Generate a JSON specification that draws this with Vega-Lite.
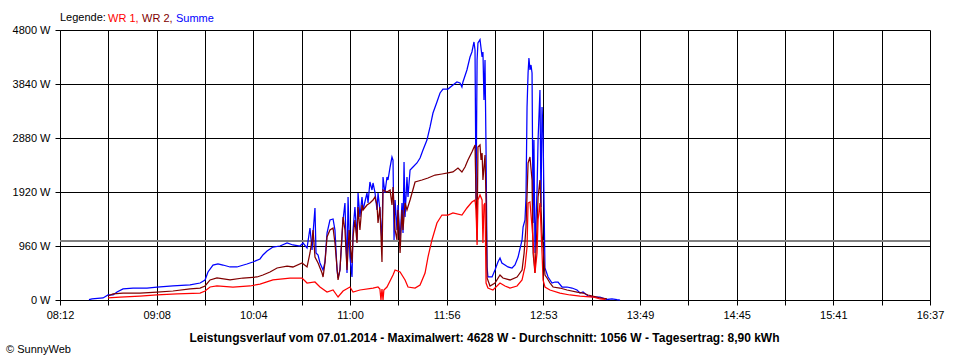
{
"$schema": "https://vega.github.io/schema/vega-lite/v6.json",
"width": 870, "height": 270,
"autosize": {"type": "none"},
"padding": {"left": 60, "top": 30, "right": 30, "bottom": 60},
"background": "white",
"config": {"view": {"stroke": null}, "font": "Liberation Sans"},
"title": {"text": "© SunnyWeb", "orient": "bottom", "anchor": "start", "frame": "bounds", "fontSize": 11, "fontWeight": "normal", "color": "#000000", "offset": 1, "dx": -6},
"data": {"values": [
{"t":508.8,"s":"Summe","w":5},{"t":510.6,"s":"Summe","w":18},{"t":517.0,"s":"Summe","w":36},{"t":519.9,"s":"Summe","w":89},{"t":522.8,"s":"Summe","w":89},{"t":525.1,"s":"Summe","w":142},{"t":528.6,"s":"Summe","w":196},{"t":534.4,"s":"Summe","w":213},{"t":542.5,"s":"Summe","w":213},{"t":548.3,"s":"Summe","w":231},{"t":557.6,"s":"Summe","w":249},{"t":567.5,"s":"Summe","w":267},{"t":573.3,"s":"Summe","w":302},{"t":576.2,"s":"Summe","w":356},{"t":577.9,"s":"Summe","w":498},{"t":580.8,"s":"Summe","w":622},{"t":583.7,"s":"Summe","w":640},{"t":586.6,"s":"Summe","w":622},{"t":590.7,"s":"Summe","w":587},{"t":594.7,"s":"Summe","w":587},{"t":600.5,"s":"Summe","w":640},{"t":604.0,"s":"Summe","w":676},{"t":608.1,"s":"Summe","w":729},{"t":609.8,"s":"Summe","w":800},{"t":612.2,"s":"Summe","w":871},{"t":615.6,"s":"Summe","w":942},{"t":619.7,"s":"Summe","w":960},{"t":623.8,"s":"Summe","w":1013},{"t":627.2,"s":"Summe","w":978},{"t":631.3,"s":"Summe","w":960},{"t":633.1,"s":"Summe","w":1013},{"t":635.4,"s":"Summe","w":924},{"t":637.1,"s":"Summe","w":1280},{"t":638.3,"s":"Summe","w":889},{"t":638.9,"s":"Summe","w":1191},{"t":640.0,"s":"Summe","w":1636},{"t":640.6,"s":"Summe","w":836},{"t":641.8,"s":"Summe","w":800},{"t":642.9,"s":"Summe","w":658},{"t":644.7,"s":"Summe","w":533},{"t":645.8,"s":"Summe","w":676},{"t":647.0,"s":"Summe","w":1191},{"t":648.7,"s":"Summe","w":1422},{"t":650.5,"s":"Summe","w":1440},{"t":651.6,"s":"Summe","w":1244},{"t":652.8,"s":"Summe","w":533},{"t":653.4,"s":"Summe","w":391},{"t":654.5,"s":"Summe","w":533},{"t":656.3,"s":"Summe","w":1422},{"t":657.4,"s":"Summe","w":1724},{"t":658.6,"s":"Summe","w":480},{"t":659.2,"s":"Summe","w":1831},{"t":660.3,"s":"Summe","w":764},{"t":661.5,"s":"Summe","w":409},{"t":662.1,"s":"Summe","w":1244},{"t":663.2,"s":"Summe","w":1653},{"t":664.4,"s":"Summe","w":1067},{"t":665.0,"s":"Summe","w":1902},{"t":666.1,"s":"Summe","w":1476},{"t":667.3,"s":"Summe","w":1831},{"t":667.9,"s":"Summe","w":1600},{"t":670.2,"s":"Summe","w":1902},{"t":670.8,"s":"Summe","w":1724},{"t":671.9,"s":"Summe","w":2098},{"t":673.1,"s":"Summe","w":1956},{"t":673.7,"s":"Summe","w":2080},{"t":674.8,"s":"Summe","w":1920},{"t":676.0,"s":"Summe","w":1600},{"t":676.6,"s":"Summe","w":1902},{"t":677.7,"s":"Summe","w":1600},{"t":678.9,"s":"Summe","w":1031},{"t":679.5,"s":"Summe","w":2187},{"t":680.6,"s":"Summe","w":1902},{"t":681.8,"s":"Summe","w":2187},{"t":682.4,"s":"Summe","w":2133},{"t":683.6,"s":"Summe","w":2364},{"t":684.7,"s":"Summe","w":2542},{"t":685.3,"s":"Summe","w":2489},{"t":685.9,"s":"Summe","w":1067},{"t":686.5,"s":"Summe","w":1778},{"t":687.6,"s":"Summe","w":1244},{"t":688.2,"s":"Summe","w":1689},{"t":689.4,"s":"Summe","w":1067},{"t":690.5,"s":"Summe","w":1724},{"t":691.1,"s":"Summe","w":1191},{"t":691.7,"s":"Summe","w":2453},{"t":692.3,"s":"Summe","w":1476},{"t":693.4,"s":"Summe","w":2187},{"t":694.0,"s":"Summe","w":1831},{"t":695.2,"s":"Summe","w":2311},{"t":696.9,"s":"Summe","w":2364},{"t":699.2,"s":"Summe","w":2436},{"t":701.0,"s":"Summe","w":2524},{"t":702.7,"s":"Summe","w":2667},{"t":705.0,"s":"Summe","w":2844},{"t":706.8,"s":"Summe","w":3076},{"t":708.5,"s":"Summe","w":3324},{"t":710.8,"s":"Summe","w":3520},{"t":712.6,"s":"Summe","w":3680},{"t":714.3,"s":"Summe","w":3751},{"t":717.2,"s":"Summe","w":3751},{"t":720.1,"s":"Summe","w":3822},{"t":722.4,"s":"Summe","w":3876},{"t":724.2,"s":"Summe","w":3858},{"t":725.3,"s":"Summe","w":3787},{"t":725.9,"s":"Summe","w":3876},{"t":728.2,"s":"Summe","w":4089},{"t":730.0,"s":"Summe","w":4320},{"t":731.1,"s":"Summe","w":4409},{"t":732.3,"s":"Summe","w":4587},{"t":732.9,"s":"Summe","w":4444},{"t":733.5,"s":"Summe","w":1778},{"t":734.1,"s":"Summe","w":4267},{"t":734.6,"s":"Summe","w":4569},{"t":735.8,"s":"Summe","w":4628},{"t":737.0,"s":"Summe","w":4320},{"t":737.5,"s":"Summe","w":4409},{"t":738.1,"s":"Summe","w":3556},{"t":738.7,"s":"Summe","w":4267},{"t":739.3,"s":"Summe","w":2667},{"t":739.9,"s":"Summe","w":587},{"t":740.4,"s":"Summe","w":409},{"t":742.8,"s":"Summe","w":409},{"t":744.5,"s":"Summe","w":533},{"t":746.2,"s":"Summe","w":676},{"t":747.4,"s":"Summe","w":747},{"t":748.5,"s":"Summe","w":658},{"t":750.3,"s":"Summe","w":622},{"t":752.0,"s":"Summe","w":587},{"t":754.4,"s":"Summe","w":569},{"t":756.1,"s":"Summe","w":622},{"t":757.9,"s":"Summe","w":764},{"t":760.2,"s":"Summe","w":1067},{"t":760.8,"s":"Summe","w":1298},{"t":761.9,"s":"Summe","w":1422},{"t":762.5,"s":"Summe","w":1831},{"t":763.1,"s":"Summe","w":3431},{"t":763.7,"s":"Summe","w":4036},{"t":764.2,"s":"Summe","w":4302},{"t":764.8,"s":"Summe","w":4089},{"t":765.4,"s":"Summe","w":4178},{"t":766.0,"s":"Summe","w":4036},{"t":766.6,"s":"Summe","w":1369},{"t":767.1,"s":"Summe","w":2844},{"t":767.7,"s":"Summe","w":836},{"t":768.9,"s":"Summe","w":1956},{"t":769.5,"s":"Summe","w":2844},{"t":770.6,"s":"Summe","w":3733},{"t":771.2,"s":"Summe","w":1653},{"t":771.8,"s":"Summe","w":3431},{"t":772.4,"s":"Summe","w":2969},{"t":773.5,"s":"Summe","w":569},{"t":775.3,"s":"Summe","w":409},{"t":777.6,"s":"Summe","w":302},{"t":779.3,"s":"Summe","w":320},{"t":781.1,"s":"Summe","w":320},{"t":783.4,"s":"Summe","w":231},{"t":786.3,"s":"Summe","w":231},{"t":789.2,"s":"Summe","w":213},{"t":792.1,"s":"Summe","w":178},{"t":793.8,"s":"Summe","w":124},{"t":795.6,"s":"Summe","w":142},{"t":798.5,"s":"Summe","w":71},{"t":802.5,"s":"Summe","w":53},{"t":805.4,"s":"Summe","w":53},{"t":809.5,"s":"Summe","w":9},{"t":812.4,"s":"Summe","w":18},{"t":815.3,"s":"Summe","w":5},{"t":817.1,"s":"Summe","w":0},
{"t":519.9,"s":"WR 2","w":71},{"t":522.8,"s":"WR 2","w":107},{"t":528.6,"s":"WR 2","w":124},{"t":538.4,"s":"WR 2","w":124},{"t":548.3,"s":"WR 2","w":142},{"t":557.6,"s":"WR 2","w":160},{"t":567.5,"s":"WR 2","w":196},{"t":573.3,"s":"WR 2","w":213},{"t":576.2,"s":"WR 2","w":249},{"t":579.1,"s":"WR 2","w":356},{"t":583.1,"s":"WR 2","w":391},{"t":590.7,"s":"WR 2","w":356},{"t":598.2,"s":"WR 2","w":391},{"t":606.4,"s":"WR 2","w":409},{"t":609.8,"s":"WR 2","w":444},{"t":613.9,"s":"WR 2","w":498},{"t":618.0,"s":"WR 2","w":569},{"t":623.8,"s":"WR 2","w":604},{"t":627.2,"s":"WR 2","w":587},{"t":632.5,"s":"WR 2","w":658},{"t":635.4,"s":"WR 2","w":587},{"t":637.1,"s":"WR 2","w":836},{"t":638.3,"s":"WR 2","w":1067},{"t":638.9,"s":"WR 2","w":1244},{"t":640.0,"s":"WR 2","w":764},{"t":641.8,"s":"WR 2","w":658},{"t":644.1,"s":"WR 2","w":480},{"t":644.7,"s":"WR 2","w":409},{"t":645.8,"s":"WR 2","w":658},{"t":647.0,"s":"WR 2","w":1120},{"t":648.7,"s":"WR 2","w":1244},{"t":650.5,"s":"WR 2","w":1280},{"t":651.6,"s":"WR 2","w":1013},{"t":653.4,"s":"WR 2","w":356},{"t":654.5,"s":"WR 2","w":533},{"t":656.3,"s":"WR 2","w":1476},{"t":657.4,"s":"WR 2","w":1244},{"t":658.6,"s":"WR 2","w":533},{"t":659.8,"s":"WR 2","w":1244},{"t":661.5,"s":"WR 2","w":658},{"t":662.1,"s":"WR 2","w":1120},{"t":663.2,"s":"WR 2","w":1422},{"t":664.4,"s":"WR 2","w":1013},{"t":665.0,"s":"WR 2","w":1653},{"t":666.1,"s":"WR 2","w":1244},{"t":667.3,"s":"WR 2","w":1689},{"t":667.9,"s":"WR 2","w":1600},{"t":670.2,"s":"WR 2","w":1689},{"t":671.9,"s":"WR 2","w":1724},{"t":673.7,"s":"WR 2","w":1778},{"t":674.8,"s":"WR 2","w":1831},{"t":676.0,"s":"WR 2","w":1689},{"t":676.6,"s":"WR 2","w":1369},{"t":677.7,"s":"WR 2","w":1653},{"t":678.9,"s":"WR 2","w":676},{"t":679.5,"s":"WR 2","w":1956},{"t":681.8,"s":"WR 2","w":1920},{"t":683.6,"s":"WR 2","w":1956},{"t":684.7,"s":"WR 2","w":1689},{"t":685.3,"s":"WR 2","w":2009},{"t":686.5,"s":"WR 2","w":1244},{"t":687.6,"s":"WR 2","w":1067},{"t":688.2,"s":"WR 2","w":1600},{"t":689.4,"s":"WR 2","w":836},{"t":690.5,"s":"WR 2","w":1600},{"t":691.1,"s":"WR 2","w":1244},{"t":692.3,"s":"WR 2","w":1724},{"t":693.4,"s":"WR 2","w":1600},{"t":695.2,"s":"WR 2","w":1778},{"t":698.1,"s":"WR 2","w":2098},{"t":702.1,"s":"WR 2","w":2133},{"t":705.6,"s":"WR 2","w":2169},{"t":709.7,"s":"WR 2","w":2222},{"t":713.7,"s":"WR 2","w":2240},{"t":717.2,"s":"WR 2","w":2258},{"t":720.1,"s":"WR 2","w":2276},{"t":723.0,"s":"WR 2","w":2347},{"t":725.3,"s":"WR 2","w":2276},{"t":727.1,"s":"WR 2","w":2364},{"t":728.8,"s":"WR 2","w":2489},{"t":731.1,"s":"WR 2","w":2631},{"t":732.9,"s":"WR 2","w":2756},{"t":733.5,"s":"WR 2","w":1831},{"t":734.1,"s":"WR 2","w":1067},{"t":734.6,"s":"WR 2","w":2720},{"t":735.8,"s":"WR 2","w":2756},{"t":736.4,"s":"WR 2","w":2489},{"t":737.0,"s":"WR 2","w":2613},{"t":737.5,"s":"WR 2","w":2133},{"t":738.7,"s":"WR 2","w":2578},{"t":739.3,"s":"WR 2","w":1778},{"t":739.9,"s":"WR 2","w":391},{"t":741.6,"s":"WR 2","w":249},{"t":744.5,"s":"WR 2","w":302},{"t":747.4,"s":"WR 2","w":444},{"t":749.1,"s":"WR 2","w":391},{"t":753.2,"s":"WR 2","w":356},{"t":757.3,"s":"WR 2","w":409},{"t":760.2,"s":"WR 2","w":533},{"t":761.4,"s":"WR 2","w":836},{"t":762.5,"s":"WR 2","w":1298},{"t":763.7,"s":"WR 2","w":2436},{"t":764.8,"s":"WR 2","w":2542},{"t":766.0,"s":"WR 2","w":2133},{"t":766.6,"s":"WR 2","w":836},{"t":767.7,"s":"WR 2","w":480},{"t":768.9,"s":"WR 2","w":1298},{"t":769.5,"s":"WR 2","w":1831},{"t":770.6,"s":"WR 2","w":2133},{"t":771.8,"s":"WR 2","w":1191},{"t":772.4,"s":"WR 2","w":942},{"t":773.5,"s":"WR 2","w":444},{"t":774.7,"s":"WR 2","w":391},{"t":776.4,"s":"WR 2","w":302},{"t":778.2,"s":"WR 2","w":231},{"t":782.2,"s":"WR 2","w":213},{"t":786.3,"s":"WR 2","w":178},{"t":792.1,"s":"WR 2","w":142},{"t":795.6,"s":"WR 2","w":124},{"t":798.5,"s":"WR 2","w":89},{"t":803.7,"s":"WR 2","w":53},{"t":805.4,"s":"WR 2","w":36},{"t":809.5,"s":"WR 2","w":18},
{"t":519.9,"s":"WR 1","w":36},{"t":526.8,"s":"WR 1","w":53},{"t":538.4,"s":"WR 1","w":71},{"t":548.3,"s":"WR 1","w":89},{"t":559.9,"s":"WR 1","w":107},{"t":573.3,"s":"WR 1","w":124},{"t":576.2,"s":"WR 1","w":160},{"t":579.1,"s":"WR 1","w":231},{"t":583.1,"s":"WR 1","w":249},{"t":592.4,"s":"WR 1","w":231},{"t":602.3,"s":"WR 1","w":249},{"t":608.1,"s":"WR 1","w":284},{"t":615.6,"s":"WR 1","w":356},{"t":625.5,"s":"WR 1","w":391},{"t":632.5,"s":"WR 1","w":391},{"t":635.4,"s":"WR 1","w":302},{"t":640.0,"s":"WR 1","w":320},{"t":642.9,"s":"WR 1","w":231},{"t":647.0,"s":"WR 1","w":142},{"t":650.5,"s":"WR 1","w":178},{"t":653.4,"s":"WR 1","w":53},{"t":656.3,"s":"WR 1","w":160},{"t":660.3,"s":"WR 1","w":231},{"t":662.1,"s":"WR 1","w":142},{"t":666.1,"s":"WR 1","w":178},{"t":673.7,"s":"WR 1","w":213},{"t":676.6,"s":"WR 1","w":231},{"t":677.7,"s":"WR 1","w":196},{"t":678.3,"s":"WR 1","w":0},{"t":678.9,"s":"WR 1","w":196},{"t":679.5,"s":"WR 1","w":0},{"t":680.0,"s":"WR 1","w":178},{"t":681.8,"s":"WR 1","w":231},{"t":685.3,"s":"WR 1","w":444},{"t":686.5,"s":"WR 1","w":533},{"t":689.4,"s":"WR 1","w":498},{"t":692.3,"s":"WR 1","w":356},{"t":694.0,"s":"WR 1","w":231},{"t":698.1,"s":"WR 1","w":213},{"t":701.0,"s":"WR 1","w":267},{"t":703.9,"s":"WR 1","w":480},{"t":705.6,"s":"WR 1","w":764},{"t":707.9,"s":"WR 1","w":1067},{"t":710.8,"s":"WR 1","w":1369},{"t":713.7,"s":"WR 1","w":1511},{"t":717.2,"s":"WR 1","w":1511},{"t":720.1,"s":"WR 1","w":1547},{"t":725.3,"s":"WR 1","w":1511},{"t":728.2,"s":"WR 1","w":1636},{"t":731.1,"s":"WR 1","w":1742},{"t":732.9,"s":"WR 1","w":1778},{"t":733.5,"s":"WR 1","w":1600},{"t":734.1,"s":"WR 1","w":978},{"t":734.6,"s":"WR 1","w":1778},{"t":735.8,"s":"WR 1","w":1867},{"t":737.0,"s":"WR 1","w":1778},{"t":737.5,"s":"WR 1","w":1013},{"t":738.1,"s":"WR 1","w":1689},{"t":738.7,"s":"WR 1","w":1724},{"t":739.3,"s":"WR 1","w":302},{"t":740.4,"s":"WR 1","w":213},{"t":743.3,"s":"WR 1","w":178},{"t":747.4,"s":"WR 1","w":302},{"t":750.3,"s":"WR 1","w":249},{"t":753.2,"s":"WR 1","w":213},{"t":757.3,"s":"WR 1","w":249},{"t":760.2,"s":"WR 1","w":356},{"t":761.9,"s":"WR 1","w":587},{"t":763.1,"s":"WR 1","w":942},{"t":763.7,"s":"WR 1","w":1724},{"t":764.8,"s":"WR 1","w":1742},{"t":766.0,"s":"WR 1","w":1298},{"t":766.6,"s":"WR 1","w":1067},{"t":767.7,"s":"WR 1","w":480},{"t":768.9,"s":"WR 1","w":836},{"t":769.5,"s":"WR 1","w":1422},{"t":770.6,"s":"WR 1","w":1724},{"t":771.8,"s":"WR 1","w":836},{"t":772.4,"s":"WR 1","w":356},{"t":773.5,"s":"WR 1","w":231},{"t":776.4,"s":"WR 1","w":178},{"t":782.2,"s":"WR 1","w":124},{"t":788.0,"s":"WR 1","w":89},{"t":793.8,"s":"WR 1","w":71},{"t":801.4,"s":"WR 1","w":53},{"t":805.4,"s":"WR 1","w":18},{"t":808.4,"s":"WR 1","w":9}
]},
"layer": [
{"mark": {"type": "rule", "color": "#808080", "strokeWidth": 1}, "encoding": {"y": {"datum": 1056, "type": "quantitative"}}},
{"encoding": {
  "x": {"field": "t", "type": "quantitative", "scale": {"domain": [492, 997], "nice": false, "zero": false},
    "axis": {"values": [492, 520.056, 548.111, 576.167, 604.222, 632.278, 660.333, 688.389, 716.444, 744.5, 772.556, 800.611, 828.667, 856.722, 884.778, 912.833, 940.889, 968.944, 997],
      "labelExpr": "round((datum.value - 492) / 28.0556) % 2 == 0 ? format(floor(round(datum.value) / 60), '02d') + ':' + format(round(datum.value) % 60, '02d') : ''",
      "title": "Leistungsverlauf vom 07.01.2014 - Maximalwert: 4628 W - Durchschnitt: 1056 W - Tagesertrag: 8,90 kWh",
      "titleFontWeight": "bold", "titleFontSize": 12, "titleColor": "#000000", "titleX": 424, "titleY": 37, "titleBaseline": "middle", "titleAlign": "center",
      "grid": true, "gridColor": "#000000", "gridOpacity": 1, "gridWidth": 1,
      "domainColor": "#000000", "tickColor": "#000000", "tickSize": 5,
      "labelFontSize": 11, "labelColor": "#000000", "labelPadding": 4, "labelOverlap": false, "labelFlush": false, "labelBound": false}},
  "y": {"field": "w", "type": "quantitative", "scale": {"domain": [0, 4800], "nice": false},
    "axis": {"values": [0, 960, 1920, 2880, 3840, 4800], "labelExpr": "datum.value + ' W'", "title": null,
      "grid": true, "gridColor": "#000000", "gridOpacity": 1, "gridWidth": 1,
      "domainColor": "#000000", "tickColor": "#000000", "tickSize": 5,
      "labelFontSize": 11, "labelColor": "#000000", "labelPadding": 5}},
  "color": {"field": "s", "type": "nominal",
    "scale": {"domain": ["WR 1", "WR 2", "Summe"], "range": ["#ff0000", "#800000", "#0000ff"]},
    "legend": {"title": "Legende:", "orient": "top", "direction": "horizontal", "titleOrient": "left",
      "titleFontWeight": "normal", "titleFontSize": 11, "titleColor": "#000000", "titlePadding": 2,
      "labelFontSize": 11, "labelExpr": "datum.label == 'Summe' ? 'Summe' : datum.label + ','",
      "labelColor": {"expr": "datum.value == 'WR 1' ? '#ff0000' : (datum.value == 'WR 2' ? '#800000' : '#0000ff')"},
      "symbolSize": 0.01, "symbolOpacity": 0, "symbolStrokeWidth": 0, "labelOffset": -11, "gridAlign": "none", "columnPadding": 3, "offset": 6, "padding": 0}}
 },
 "layer": [
  {"transform": [{"filter": "datum.s == 'Summe'"}], "mark": {"type": "line", "strokeWidth": 1.25}},
  {"transform": [{"filter": "datum.s == 'WR 2'"}], "mark": {"type": "line", "strokeWidth": 1.25}},
  {"transform": [{"filter": "datum.s == 'WR 1'"}], "mark": {"type": "line", "strokeWidth": 1.25}}
 ]
}
]
}
